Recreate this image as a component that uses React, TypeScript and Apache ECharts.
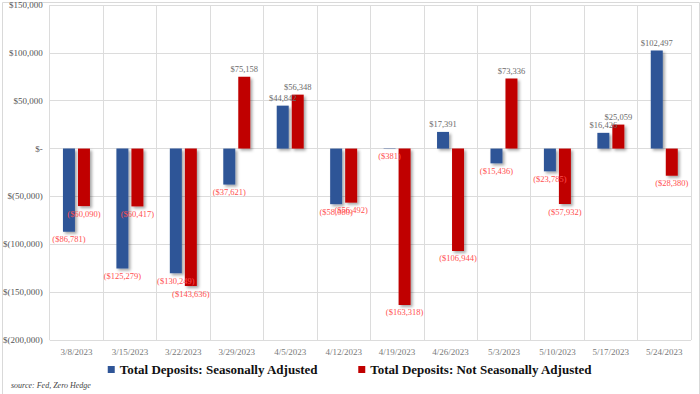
import React, { useEffect, useRef } from "react";
import * as echarts from "echarts";

const categories = ["3/8/2023", "3/15/2023", "3/22/2023", "3/29/2023", "4/5/2023", "4/12/2023", "4/19/2023", "4/26/2023", "5/3/2023", "5/10/2023", "5/17/2023", "5/24/2023"];
const seasonallyAdjusted = [-86781, -125279, -130249, -37621, 44842, -58080, -381, 17391, -15436, -23785, 16426, 102497];
const notSeasonallyAdjusted = [-60090, -60417, -143636, 75158, 56348, -56492, -163318, -106944, 73336, -57932, 25059, -28380];
const seriesNames = ["Total Deposits: Seasonally Adjusted", "Total Deposits: Not Seasonally Adjusted"];
const sourceText = "source: Fed, Zero Hedge";

const FONT = "'Liberation Serif', 'DejaVu Serif', serif";

const fmtNum = (v: number) => Math.abs(v).toLocaleString("en-US");
const fmtLabel = (v: number) => (v < 0 ? `($${fmtNum(v)})` : `$${fmtNum(v)}`);
const fmtAxis = (v: number) => (v === 0 ? "$-" : v < 0 ? `$(${fmtNum(v)})` : `$${fmtNum(v)}`);

const toData = (arr: number[]) =>
  arr.map((v) => ({
    value: v,
    label: {
      position: v < 0 ? "bottom" : "top",
      color: v < 0 ? "#ff4f4f" : "#6b6b6b",
    },
  }));

export default function App() {
  const ref = useRef<HTMLDivElement>(null);
  useEffect(() => {
    document.body.style.margin = "0";
    const chart = echarts.init(ref.current!, undefined, { renderer: "svg" });
    const barCommon = {
      type: "bar" as const,
      barWidth: 12,
      barGap: "25%",
      label: {
        show: true,
        distance: 3,
        fontFamily: FONT,
        fontSize: 8.5,
        formatter: (p: any) => fmtLabel(p.value),
      },
    };
    chart.setOption({
      animation: false,
      backgroundColor: "#ffffff",
      grid: { left: 49, right: 9, top: 5, bottom: 54, containLabel: false },
      legend: {
        bottom: 13,
        left: "center",
        icon: "rect",
        itemWidth: 7,
        itemHeight: 7,
        itemGap: 40,
        textStyle: { fontFamily: FONT, fontSize: 13, fontWeight: "bold", color: "#111" },
        data: seriesNames,
      },
      xAxis: {
        type: "category",
        data: categories,
        axisLine: { show: false },
        axisTick: { show: false },
        splitLine: { show: true, interval: 0, lineStyle: { color: "#dcdcdc", width: 1 } },
        axisLabel: { fontFamily: FONT, fontSize: 9, color: "#7a7a7a", margin: 7, interval: 0 },
      },
      yAxis: {
        type: "value",
        min: -200000,
        max: 150000,
        interval: 50000,
        axisLine: { show: false },
        axisTick: { show: false },
        splitLine: { lineStyle: { color: "#dcdcdc", width: 1 } },
        axisLabel: { fontFamily: FONT, fontSize: 9, color: "#555", margin: 7, formatter: fmtAxis },
      },
      series: [
        {
          ...barCommon,
          name: seriesNames[0],
          data: toData(seasonallyAdjusted),
          itemStyle: {
            color: "#2f5597",
            shadowColor: "rgba(0,0,0,0.35)",
            shadowBlur: 3,
            shadowOffsetX: 2,
            shadowOffsetY: 2,
          },
        },
        {
          ...barCommon,
          name: seriesNames[1],
          data: toData(notSeasonallyAdjusted),
          itemStyle: {
            color: "#c00000",
            shadowColor: "rgba(0,0,0,0.35)",
            shadowBlur: 3,
            shadowOffsetX: 2,
            shadowOffsetY: 2,
          },
        },
      ],
      graphic: [
        {
          type: "rect",
          left: 0,
          top: 0,
          shape: { x: 0.5, y: 0.5, width: 697, height: 393 },
          style: { fill: "none", stroke: "#d9d9d9", lineWidth: 1 },
          silent: true,
          z: -1,
        },
        {
          type: "text",
          left: 11,
          top: 381,
          style: { text: sourceText, font: `italic 8px ${FONT}`, fill: "#444" },
        },
      ],
    });
    return () => chart.dispose();
  }, []);
  return <div ref={ref} style={{ width: 700, height: 394 }} />;
}
